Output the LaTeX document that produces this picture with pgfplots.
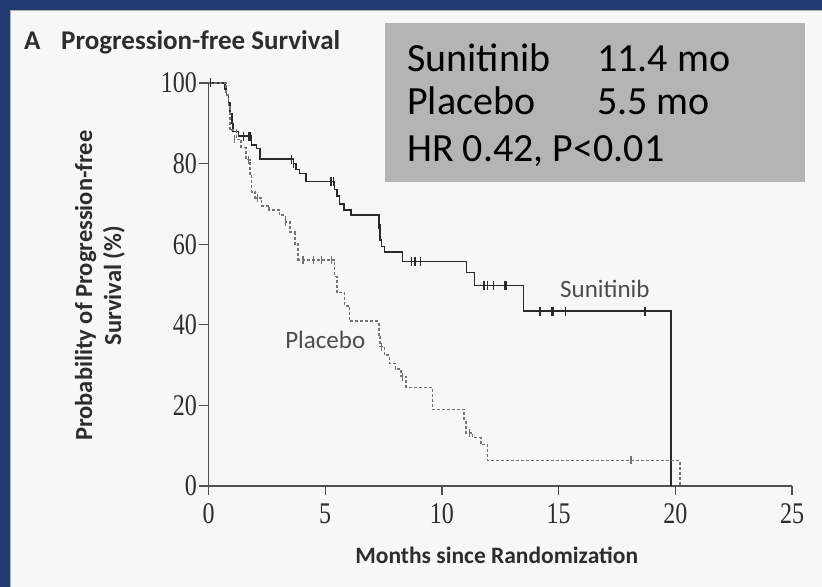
\documentclass[border=0pt]{standalone}
\usepackage{fontspec}
\setmainfont{Carlito}
\newfontfamily\tickfont[FakeStretch=0.8]{Liberation Serif}
\usepackage{pgfplots}
\pgfplotsset{compat=1.18}
\definecolor{frameblue}{HTML}{243A73}
\definecolor{panelbg}{HTML}{F7F7F7}
\definecolor{boxgray}{HTML}{B4B4B4}
\definecolor{axisgray}{HTML}{505050}
\definecolor{sunline}{HTML}{2A2A2A}
\definecolor{plaline}{HTML}{737373}
\definecolor{labtext}{HTML}{2D2D2D}
\begin{document}
\begin{tikzpicture}
\fill[panelbg] (0,0) rectangle (822bp,587bp);
\fill[frameblue] (0,577bp) rectangle (822bp,587bp);
\fill[frameblue] (0,0) rectangle (10bp,587bp);
\draw[gray!60, line width=1bp] (10.5bp,0) -- (10.5bp,576.5bp) -- (822bp,576.5bp);
% stats box
\fill[boxgray] (385bp,405bp) rectangle (805bp,564bp);
\begin{scope}[every node/.style={anchor=base west, inner sep=0, font=\fontsize{40bp}{40bp}\selectfont, text=black}]
\node at (407bp,515bp) {Sunitinib};
\node at (597bp,515bp) {11.4 mo};
\node at (407bp,472bp) {Placebo};
\node at (597bp,472bp) {5.5 mo};
\node at (407bp,425bp) {HR 0.42, P<0.01};
\end{scope}
% title
\node[anchor=base west, inner sep=0, font=\bfseries\fontsize{27bp}{27bp}\selectfont, text=labtext] at (24bp,537bp) {A};
\node[anchor=base west, inner sep=0, font=\bfseries\fontsize{27bp}{27bp}\selectfont, text=labtext] at (61bp,537bp) {Progression-free Survival};
\begin{axis}[
  at={(208.5bp,101bp)}, anchor=south west,
  scale only axis, width=583.5bp, height=403bp,
  xmin=0, xmax=25, ymin=0, ymax=100,
  axis lines=left,
  axis line style={-, axisgray, line width=1.5bp},
  xtick={0,5,10,15,20,25}, ytick={0,20,40,60,80,100},
  tick align=outside, major tick length=9bp,
  tick style={axisgray, line width=1.3bp},
  tick label style={font=\tickfont\fontsize{30bp}{30bp}\selectfont, text=labtext},
  xticklabel style={yshift=-5bp},
  yticklabel style={xshift=1bp},
  /pgf/number format/assume math mode=true,
  xlabel={Months since Randomization},
  ylabel={Probability of Progression-free\\Survival (\%)},
  xlabel style={font=\bfseries\fontsize{23.5bp}{24bp}\selectfont, text=labtext, at={(axis description cs:0.494,-0.171)}, anchor=center},
  ylabel style={font=\bfseries\fontsize{24.5bp}{29bp}\selectfont, text=labtext, align=center, at={(axis description cs:-0.186,0.497)}, anchor=center},
  clip=false,
]
\addplot[const plot mark left, sunline, line width=1.4bp] coordinates {
(0,100) (0.71,98.5) (0.78,97) (0.85,95) (0.92,92.5) (1.0,90) (1.05,88) (1.28,86.8) (1.85,84.6) (2.06,83.8) (2.2,81.1) (3.63,80) (3.75,78.5) (3.9,77.5) (4.17,75.5) (5.4,73.5) (5.5,72) (5.6,70) (5.8,68.5) (6.1,67.2) (7.3,64) (7.35,61) (7.4,59.5) (7.55,58.1) (8.3,55.7) (11.05,53) (11.4,49.8) (13.5,43.4) (19.82,0)
};
\addplot[only marks, mark=|, mark size=4.5bp, sunline, mark options={line width=1.2bp}] coordinates {
(0.1,100) (1.5,86.8) (1.7,86.8) (1.78,86.8) (3.55,81.1) (3.65,80) (5.25,75.5) (5.35,75.5) (7.35,64) (8.7,55.7) (8.85,55.7) (9.1,55.7) (11.8,49.8) (11.95,49.8) (12.2,49.8) (12.7,49.8) (12.78,49.8) (14.2,43.4) (14.7,43.4) (14.76,43.4) (15.3,43.4) (18.7,43.4)
};
\addplot[const plot mark left, plaline, line width=1.4bp, dash pattern=on 3bp off 2bp] coordinates {
(0,100) (0.75,97) (0.85,94) (0.92,88.3) (1.2,86) (1.4,84) (1.6,81) (1.77,77.4) (1.85,73) (2.0,71.5) (2.27,69.5) (2.6,68.5) (3.05,67.2) (3.3,65.5) (3.5,63) (3.7,60) (3.84,56.1) (5.4,52) (5.5,48) (5.83,44.7) (6.05,40.9) (7.3,37) (7.35,34.6) (7.55,32.5) (7.76,30.4) (8.0,29) (8.25,27.1) (8.47,24.5) (9.6,19) (10.95,16) (11.03,13.2) (11.3,12) (11.67,10.3) (11.96,6.4) (20.2,0)
};
\addplot[only marks, mark=|, mark size=4bp, plaline, mark options={line width=1.1bp}] coordinates {
(1.1,86) (1.7,81) (2.1,71.5) (3.3,65.5) (4.05,56.1) (4.48,56.1) (4.85,56.1) (5.28,56.1) (7.42,34.6) (8.33,27.1) (11.2,13.2) (18.1,6.4)
};
\node[anchor=base west, inner sep=0, font=\fontsize{25bp}{25bp}\selectfont, text=black!70] at (axis cs:15.06,46.65) {Sunitinib};
\node[anchor=base west, inner sep=0, font=\fontsize{25bp}{25bp}\selectfont, text=black!70] at (axis cs:3.28,34.2) {Placebo};
\end{axis}
\pgfresetboundingbox
\path (0,0) rectangle (822bp,587bp);
\end{tikzpicture}
\end{document}
